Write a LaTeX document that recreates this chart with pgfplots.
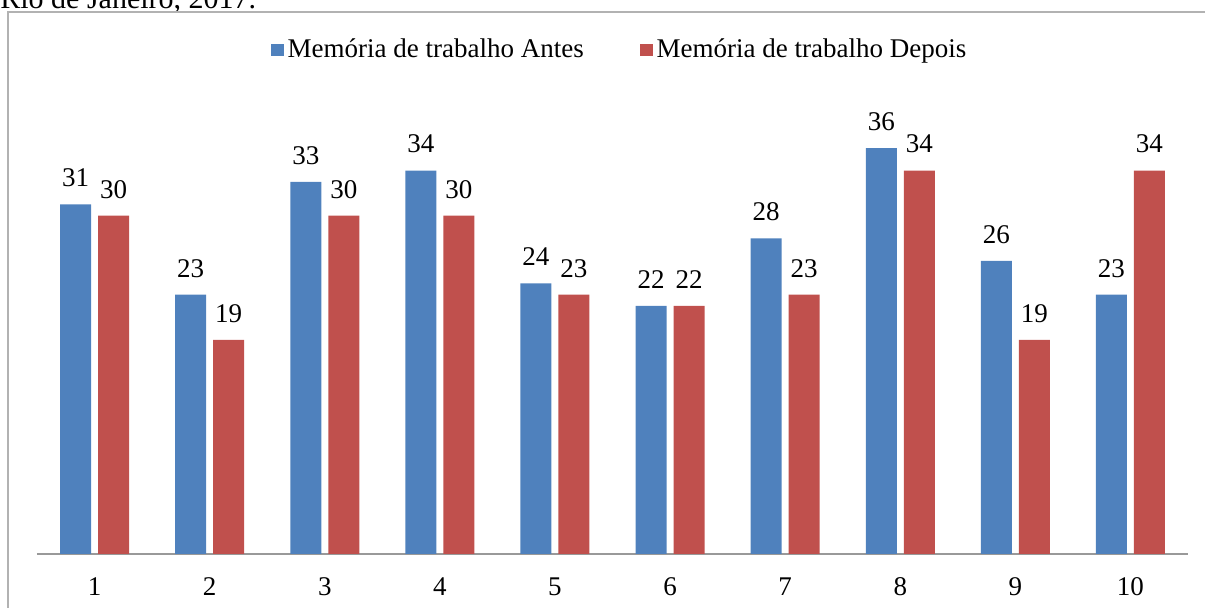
\documentclass[border=0pt]{standalone}
\usepackage{fontspec}
\setmainfont{Liberation Serif}
\usepackage{pgfplots}
\pgfplotsset{compat=1.18}
\definecolor{antes}{HTML}{4F81BD}
\definecolor{depois}{HTML}{C0504D}
\pgfplotsset{/pgf/number format/assume math mode=true}
\newcommand\chartfont{\fontsize{13.5}{16}\selectfont}

\begin{document}
\begin{tikzpicture}
% axis corner at (0,0); image top-left at (-18.5pt, 277pt)
\useasboundingbox (-18.5pt,277pt) rectangle (584pt,-27pt);
% caption line cut off at the top
\node[anchor=base west, inner sep=0pt, font=\fontsize{15}{18}\selectfont] at (-18.5pt,272.5pt) {Rio de Janeiro, 2017.};
% chart frame
\draw[gray!60, line width=0.7pt] (-14.5pt,271pt) rectangle (594pt,-40pt);
\begin{axis}[
  at={(0pt,0pt)}, anchor=south west,
  scale only axis, width=575.5pt, height=225.5pt,
  xmin=0.5, xmax=10.5, ymin=0, ymax=40,
  ybar=3.5pt, bar width=15.5pt,
  axis y line=none, axis x line*=bottom,
  x axis line style={draw=gray!80, line width=0.8pt, -},
  xtick={1,...,10}, major tick length=0pt,
  xticklabel style={font=\chartfont, inner sep=0pt, yshift=-11.5pt},
  nodes near coords,
  every node near coord/.append style={font=\chartfont, color=black, anchor=south, inner sep=0pt, yshift=8.5pt},
  legend columns=2,
  legend style={at={(0.507,1.1175)}, anchor=center, draw=none, font=\chartfont,
    /tikz/every even column/.append style={column sep=26pt}},
  legend image code/.code={\fill[#1] (0pt,-3.2pt) rectangle (6.4pt,3.2pt);},
]
\addplot[fill=antes, draw=none] coordinates {
  (1,31) (2,23) (3,33) (4,34) (5,24) (6,22) (7,28) (8,36) (9,26) (10,23)};
\addlegendentry{Memória de trabalho Antes}
\addplot[fill=depois, draw=none] coordinates {
  (1,30) (2,19) (3,30) (4,30) (5,23) (6,22) (7,23) (8,34) (9,19) (10,34)};
\addlegendentry{Memória de trabalho Depois}
\end{axis}
\end{tikzpicture}
\end{document}
